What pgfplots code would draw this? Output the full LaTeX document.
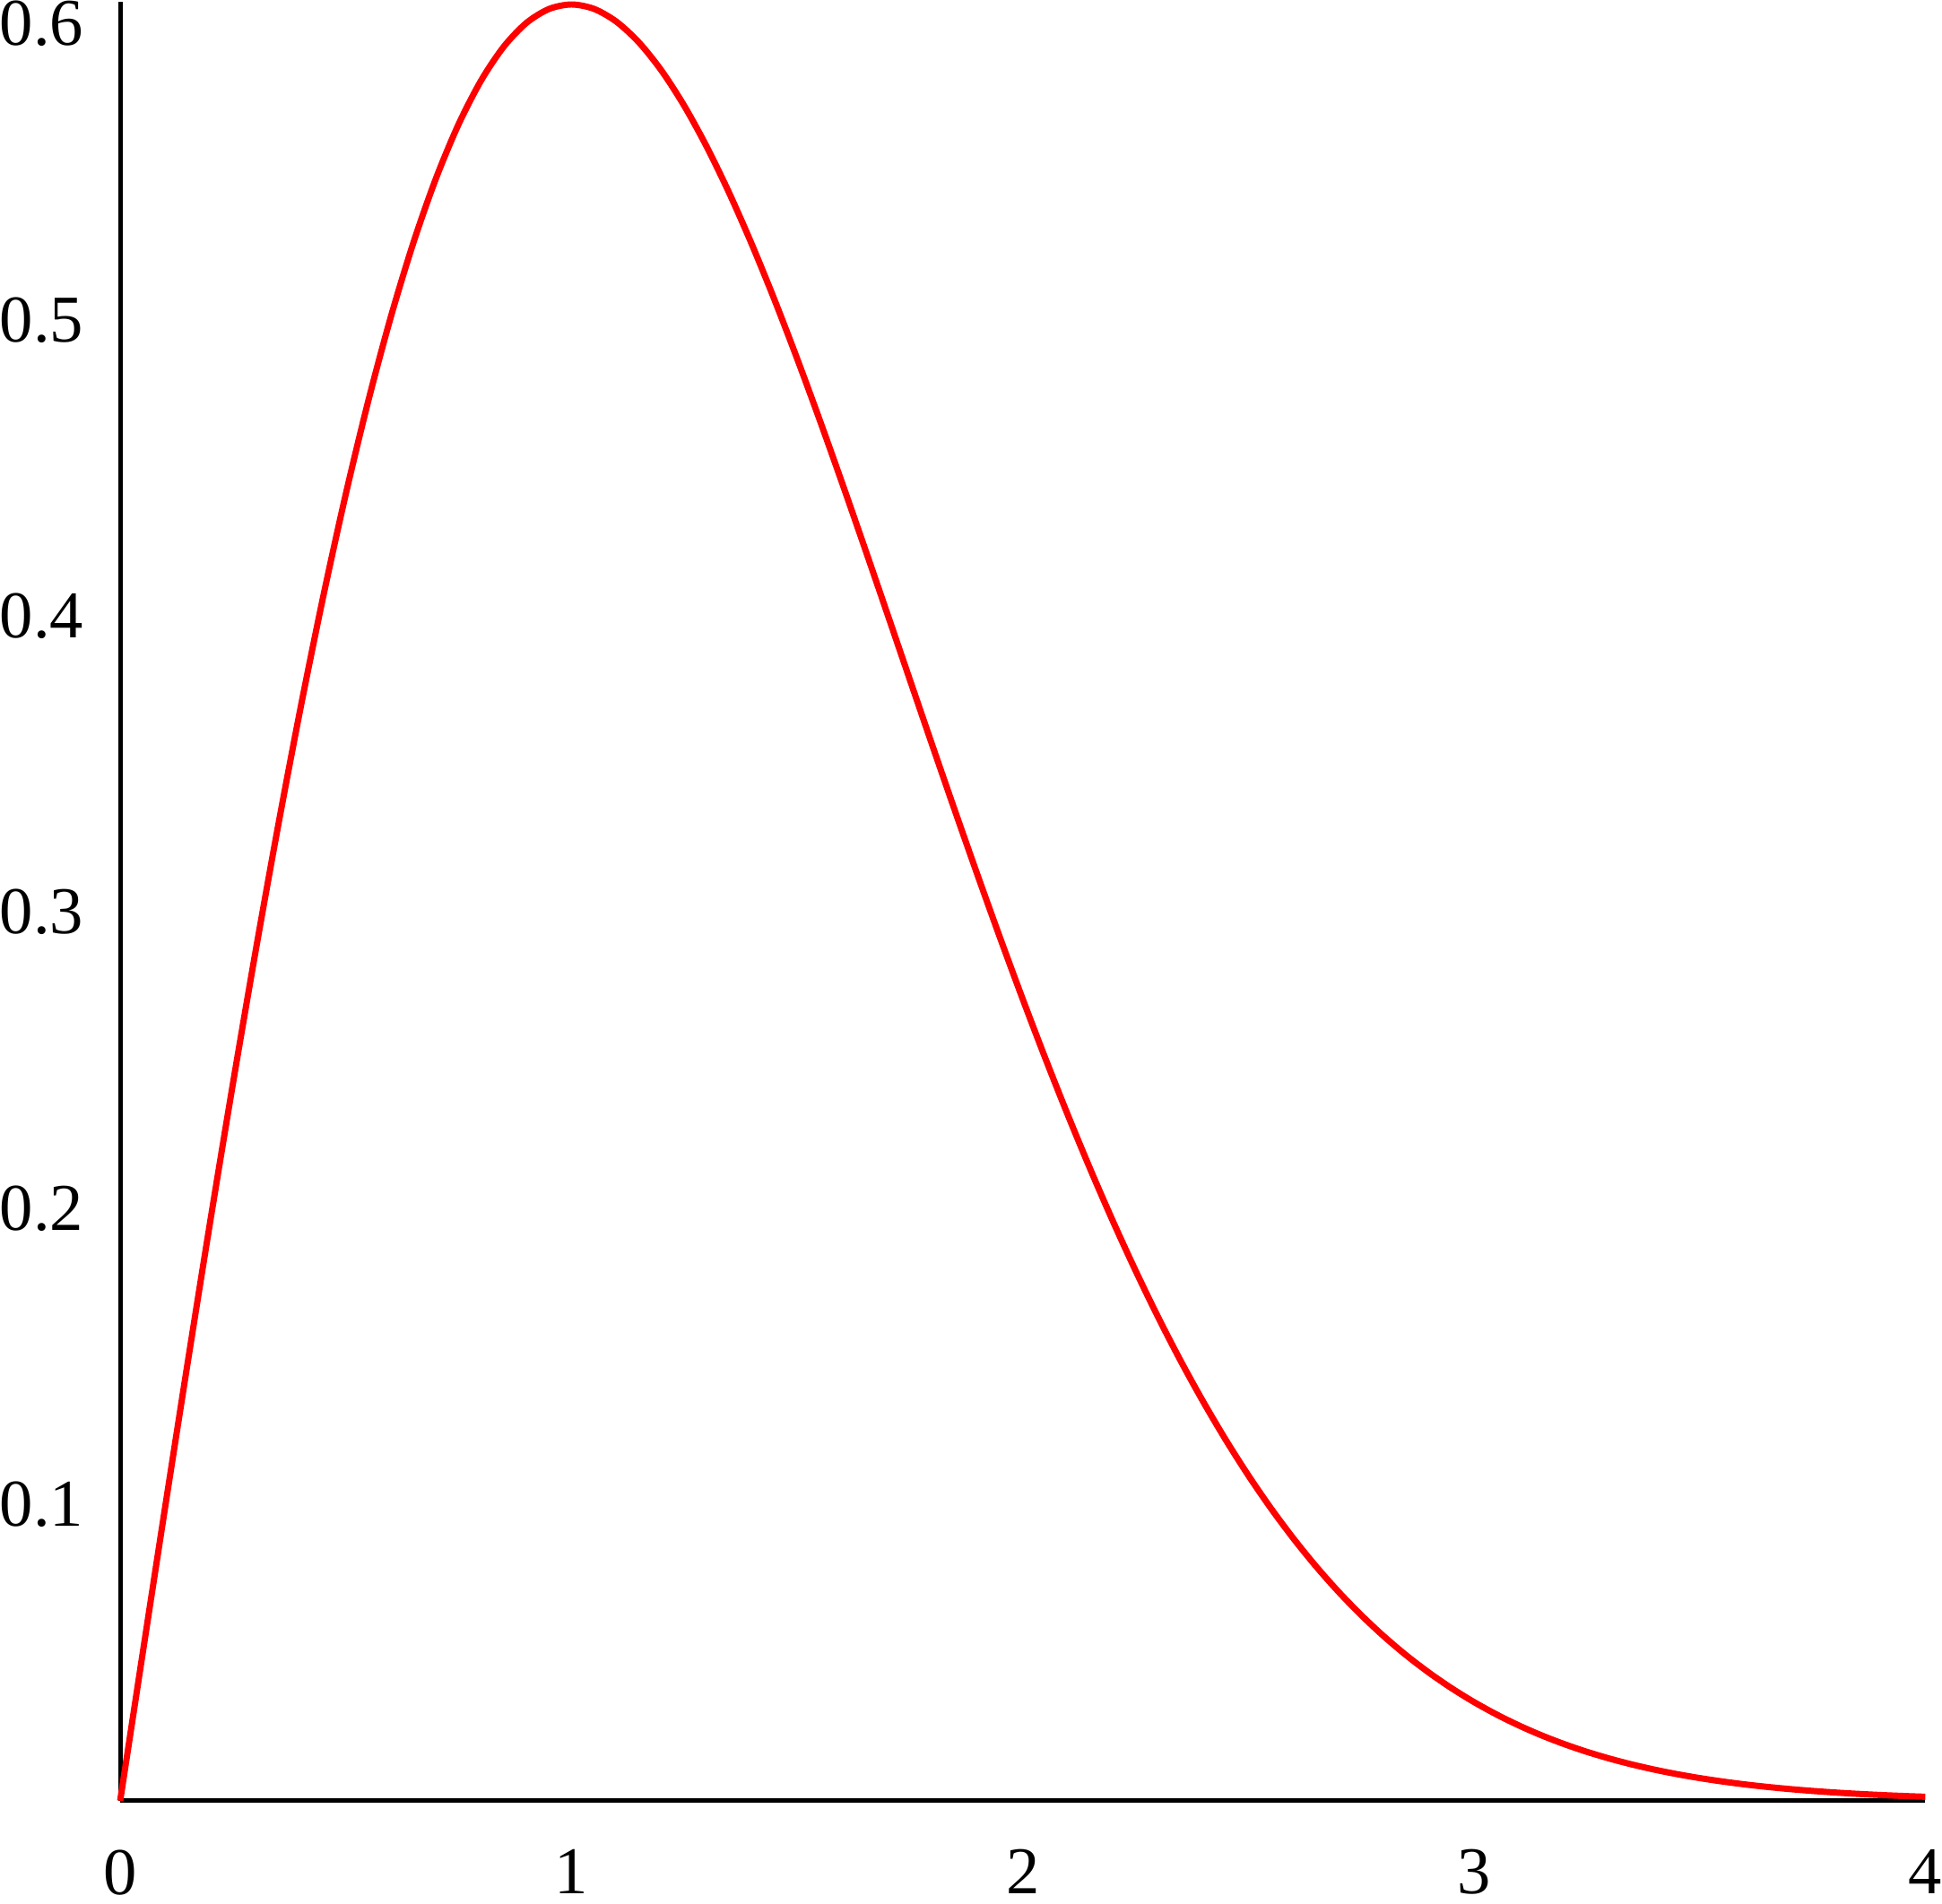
\documentclass[border=0pt]{standalone}
\usepackage{fontspec}
\setmainfont{Liberation Serif}
\usepackage{pgfplots}
\pgfplotsset{compat=1.18}
\begin{document}
\begin{tikzpicture}
\begin{axis}[
  scale only axis,
  width=404.8pt, height=403.4pt,
  xmin=0, xmax=4, ymin=0, ymax=0.6073,
  axis x line*=bottom, axis y line*=left,
  axis line style={black, line width=1pt},
  major tick length=0pt,
  xtick={0,1,2,3,4},
  ytick={0.1,0.2,0.3,0.4,0.5,0.6},
  yticklabels={0.1,0.2,0.3,0.4,0.5,0.6},
  xticklabels={0,1,2,3,4},
  tick label style={font=\fontsize{15}{18}\selectfont, inner sep=0pt},
  /pgf/number format/assume math mode=true,
  x tick label style={inner ysep=2pt, yshift=-8.8pt},
  y tick label style={xshift=-8pt},
  clip=false,
]
\addplot[red, line width=1.4pt, smooth] coordinates {
(0.00,0.000000) (0.05,0.049938) (0.10,0.099501) (0.15,0.148322) (0.20,0.196040)
(0.25,0.242308) (0.30,0.286799) (0.35,0.329206) (0.40,0.369246) (0.45,0.406668)
(0.50,0.441248) (0.55,0.472798) (0.60,0.501162) (0.65,0.526221) (0.70,0.547893)
(0.75,0.566130) (0.80,0.580919) (0.85,0.592284) (0.90,0.600279) (0.95,0.604989)
(1.00,0.606531) (1.05,0.605040) (1.10,0.600681) (1.15,0.593636) (1.20,0.584102)
(1.25,0.572291) (1.30,0.558424) (1.35,0.542728) (1.40,0.525435) (1.45,0.506775)
(1.50,0.486978) (1.55,0.466266) (1.60,0.444859) (1.65,0.422958) (1.70,0.400768)
(1.75,0.378464) (1.80,0.356218) (1.85,0.334191) (1.90,0.312501) (1.95,0.291287)
(2.00,0.270671) (2.05,0.250715) (2.10,0.231527) (2.15,0.213145) (2.20,0.195628)
(2.25,0.179010) (2.30,0.163284) (2.35,0.148529) (2.40,0.134724) (2.45,0.121829)
(2.50,0.109842) (2.55,0.098741) (2.60,0.088522) (2.65,0.079126) (2.70,0.070527)
(2.75,0.062684) (2.80,0.055555) (2.85,0.049094) (2.90,0.043271) (2.95,0.038028)
(3.00,0.033327) (3.05,0.029128) (3.10,0.025386) (3.15,0.022056) (3.20,0.019123)
(3.25,0.016530) (3.30,0.014249) (3.35,0.012251) (3.40,0.010503) (3.45,0.008980)
(3.50,0.007656) (3.55,0.006514) (3.60,0.005523) (3.65,0.004672) (3.70,0.003941)
(3.75,0.003315) (3.80,0.002782) (3.85,0.002328) (3.90,0.001944) (3.95,0.001618)
(4.00,0.001342)
};
\end{axis}
\end{tikzpicture}
\end{document}
